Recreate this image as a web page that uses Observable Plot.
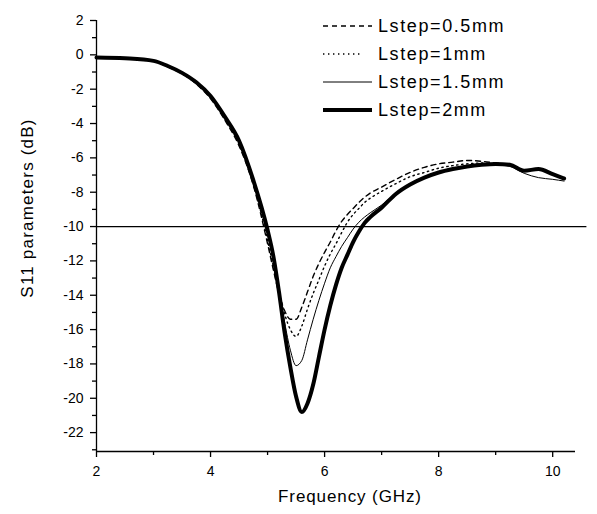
<!DOCTYPE html>
<html><head><meta charset="utf-8">
<script src="https://cdn.jsdelivr.net/npm/d3@7"></script>
<script src="https://cdn.jsdelivr.net/npm/@observablehq/plot@0.6"></script>
<style>body{margin:0;background:#fff}#chart svg{display:block}</style>
</head><body><div id="chart"></div>
<script>
// ---- data ----
const freq = [2, 2.5, 3, 3.25, 3.5, 3.75, 4, 4.25, 4.5, 4.75, 5, 5.1, 5.2, 5.3, 5.4, 5.5, 5.6, 5.7, 5.8, 5.9, 6, 6.1, 6.2, 6.3, 6.4, 6.5, 6.6, 6.7, 6.8, 7, 7.25, 7.5, 7.75, 8, 8.25, 8.5, 8.75, 9, 9.25, 9.5, 9.75, 10, 10.2];
const s11_05 = [-0.15, -0.2, -0.35, -0.7, -1.1, -1.7, -2.55, -3.8, -5.3, -7.6, -11.0, -12.5, -13.9, -14.9, -15.4, -15.4, -14.7, -13.8, -12.9, -12.15, -11.5, -10.9, -10.25, -9.7, -9.3, -8.95, -8.6, -8.3, -8.05, -7.7, -7.25, -6.85, -6.55, -6.35, -6.25, -6.15, -6.2, -6.3, -6.4, -6.7, -6.65, -6.95, -7.2];
const s11_1 = [-0.15, -0.2, -0.35, -0.65, -1.1, -1.65, -2.5, -3.7, -5.2, -7.5, -10.8, -12.3, -13.8, -15.1, -16.0, -16.4, -15.8, -14.8, -13.9, -13.1, -12.3, -11.6, -11.0, -10.35, -9.75, -9.3, -8.95, -8.6, -8.35, -7.95, -7.5, -7.1, -6.85, -6.6, -6.45, -6.35, -6.3, -6.35, -6.4, -6.75, -6.65, -6.95, -7.2];
const s11_15 = [-0.15, -0.2, -0.35, -0.65, -1.05, -1.6, -2.45, -3.65, -5.1, -7.4, -10.4, -11.9, -13.7, -15.6, -17.2, -18.1, -17.8, -16.6, -15.4, -14.3, -13.3, -12.4, -11.75, -11.15, -10.65, -10.15, -9.75, -9.45, -9.2, -8.75, -8.05, -7.55, -7.15, -6.85, -6.65, -6.5, -6.45, -6.4, -6.5, -6.9, -7.15, -7.25, -7.35];
const s11_2 = [-0.15, -0.2, -0.35, -0.65, -1.05, -1.6, -2.4, -3.6, -5.0, -7.3, -10.2, -11.7, -13.8, -16.2, -18.2, -19.9, -20.8, -20.3, -19.2, -17.6, -16.0, -14.6, -13.4, -12.4, -11.65, -10.9, -10.3, -9.8, -9.45, -8.9, -8.1, -7.55, -7.15, -6.85, -6.65, -6.5, -6.4, -6.35, -6.4, -6.75, -6.65, -6.95, -7.2];
const seriesNames = ["Lstep=0.5mm", "Lstep=1mm", "Lstep=1.5mm", "Lstep=2mm"];
const xMajor = [2, 4, 6, 8, 10];
const xMinor = [3, 5, 7, 9];
const yMajor = [2, 0, -2, -4, -6, -8, -10, -12, -14, -16, -18, -20, -22];
const yMinor = [1, -1, -3, -5, -7, -9, -11, -13, -15, -17, -19, -21, -23];
const refLevel = [-10];
const xTitle = "Frequency (GHz)";
const yTitle = "S11 parameters (dB)";

// ---- styles per series ----
const styles = [
  {strokeWidth: 1.4, strokeDasharray: "5,4"},
  {strokeWidth: 1.4, strokeDasharray: "1.4,3.6"},
  {strokeWidth: 1, strokeDasharray: null},
  {strokeWidth: 4, strokeDasharray: null}
];
const allSeries = [s11_05, s11_1, s11_15, s11_2];
const tables = allSeries.map(vals => freq.map((f, i) => ({f, v: vals[i]})));

const fmt = d => d < 0 ? "-" + (-d) : String(d);

const plot = Plot.plot({
  width: 597, height: 514,
  marginLeft: 96, marginRight: 22, marginTop: 20, marginBottom: 63,
  style: {fontFamily: "'Liberation Sans', Arial, sans-serif", fontSize: "14px", background: "#fff", color: "#000", overflow: "visible"},
  x: {domain: [2, 10.4]},
  y: {domain: [-23.1, 2]},
  marks: [
    Plot.axisX({ticks: xMajor, tickSize: 6, tickPadding: 9, tickFormat: fmt, label: null, strokeWidth: 1.3}),
    Plot.axisX({ticks: xMinor, tickSize: 4, tickFormat: () => "", label: null, strokeWidth: 1.3}),
    Plot.axisY({ticks: yMajor, tickSize: 6, tickPadding: 7, tickFormat: fmt, label: null, strokeWidth: 1.3}),
    Plot.axisY({ticks: yMinor.filter(d => d >= -23.1), tickSize: 4, tickFormat: () => "", label: null, strokeWidth: 1.3}),
    Plot.ruleX([2], {stroke: "#000", strokeWidth: 1.3}),
    Plot.ruleY([-23.1], {stroke: "#000", strokeWidth: 1.3}),
    Plot.ruleY(refLevel, {x1: 2, x2: 10.6, stroke: "#000", strokeWidth: 1.2, clip: false}),
    ...tables.map((t, i) => Plot.line(t, {x: "f", y: "v", curve: "monotone-x", stroke: "#000", strokeLinejoin: "round", ...styles[i]})),
    Plot.text([xTitle], {frameAnchor: "bottom", dx: 14, dy: 45, fontSize: 17, lineAnchor: "middle", textAnchor: "middle"}),
    Plot.text([yTitle], {frameAnchor: "left", dx: -69, dy: -28, rotate: -90, fontSize: 17, lineAnchor: "middle", textAnchor: "middle"})
  ]
});
document.getElementById("chart").append(plot);

const svg = d3.select(plot);
// letter spacing for the axis titles
svg.selectAll("text").filter(function () { return this.textContent === xTitle; }).attr("letter-spacing", 0.9);
svg.selectAll("text").filter(function () { return this.textContent === yTitle; }).attr("letter-spacing", 1.2);

// ---- legend ----
const lg = svg.append("g").attr("class", "legend").attr("text-anchor", "start");
const rowsY = [26, 54, 82, 110];
seriesNames.forEach((name, i) => {
  const st = styles[i];
  lg.append("line")
    .attr("x1", 323).attr("x2", i === 1 ? 360 : 372)
    .attr("y1", rowsY[i]).attr("y2", rowsY[i])
    .attr("stroke", "#000").attr("stroke-width", st.strokeWidth)
    .attr("stroke-dasharray", st.strokeDasharray);
  lg.append("text")
    .attr("x", 378).attr("y", rowsY[i]).attr("dy", "0.35em")
    .attr("text-anchor", "start")
    .attr("font-size", 18).attr("letter-spacing", 1.6)
    .attr("font-family", "'Liberation Sans', Arial, sans-serif")
    .text(name);
});
</script>
</body></html>
